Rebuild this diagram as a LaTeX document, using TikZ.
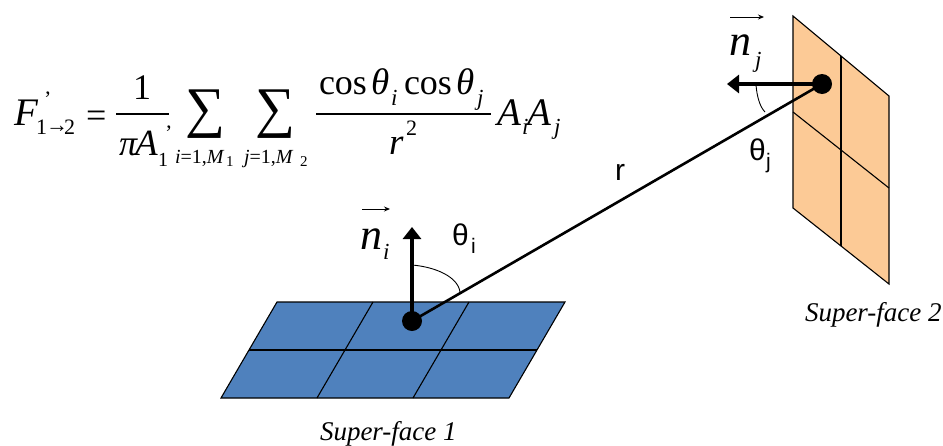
\documentclass[tikz,border=0pt]{standalone}
\usepackage{fontspec}
\setmainfont{Liberation Serif}
\newfontfamily\labelsans{Liberation Sans}
\usetikzlibrary{arrows.meta}
\definecolor{blueface}{RGB}{79,129,189}
\definecolor{orangeface}{RGB}{252,202,150}
\newcommand{\fs}[1]{\fontsize{#1}{#1}\selectfont}
\tikzset{
  txt/.style={anchor=base west,inner sep=0pt,outer sep=0pt,text=black},
  mi/.style={txt,font=\fs{37}\itshape},
  mA/.style={txt,font=\fs{39}\itshape},
  mr/.style={txt,font=\fs{36}},
  vecn/.style={txt,font=\fs{44}\itshape},
  si/.style={txt,font=\fs{23}\itshape},
  sr/.style={txt,font=\fs{22}},
  ti/.style={txt,font=\fs{15}},
  bigsum/.style={txt,font=\fs{56}},
  lab/.style={txt,font=\fs{30}\labelsans},
  labs/.style={txt,font=\fs{21}\labelsans},
  captext/.style={txt,font=\fs{27}\itshape},
  gridline/.style={draw=black,line width=1.1pt},
  fracbar/.style={draw=black,line width=1.1pt},
  thick arrow/.style={draw=black,line width=3.3pt,-{Triangle[length=12pt,width=18pt]}},
  thin arrow/.style={draw=black,line width=0.9pt,-{Stealth[length=6pt,width=5pt]}},
  dotn/.style={circle,fill=black,inner sep=0pt,minimum size=20pt},
}
\begin{document}
\begin{tikzpicture}[x=1pt,y=-1pt]
\useasboundingbox (0,0) rectangle (943,445);
% faces
\draw[gridline,fill=blueface] (277,302) -- (565,302) -- (509,398) -- (221,398) -- cycle;
\draw[gridline] (249,350) -- (537,350);
\draw[gridline] (373,302) -- (317,398);
\draw[gridline] (469,302) -- (413,398);
\draw[gridline,fill=orangeface] (793,16) -- (889,96) -- (889,284) -- (793,208) -- cycle;
\draw[gridline] (793,112) -- (889,188);
\draw[gridline] (841,56) -- (841,246);
% dots and connectors
\node[dotn] (doti) at (412,321) {};
\node[dotn] (dotj) at (822,84) {};
\coordinate (tipi) at (412,227);
\coordinate (tipj) at (727,84);
\draw[black,line width=2.6pt] (doti.center) -- (dotj.center);
\draw[thick arrow] (doti.center) -- (tipi);
\draw[thick arrow] (dotj.center) -- (tipj);
\coordinate (ai0) at (412,265);
\coordinate (ai1) at (460,292);
\coordinate (aj0) at (756,85);
\coordinate (aj1) at (765,112);
\draw[black,line width=0.9pt] (ai0) .. controls (436,267) and (458,277) .. (ai1);
\draw[black,line width=0.9pt] (aj0) .. controls (757,97) and (760,107) .. (aj1);
% vector arrows
\coordinate (vi0) at (362,209);
\coordinate (vi1) at (390,209);
\coordinate (vj0) at (730,17);
\coordinate (vj1) at (764,17);
\draw[thin arrow] (vi0) -- (vi1);
\draw[thin arrow] (vj0) -- (vj1);
% labels
\node[vecn] (ni) at (360,249) {n};
\node[si] (nis) at (383,259) {i};
\node[vecn] (nj) at (729,55) {n};
\node[si] (njs) at (755,67) {j};
\node[lab] (thi) at (452,245) {θ};
\node[labs] (this) at (471,253) {i};
\node[lab] (thj) at (749,160) {θ};
\node[labs] (thjs) at (766,168) {j};
\node[lab] (rlab) at (615,180) {r};
\node[captext] (cap1) at (320,440) {Super-face 1};
\node[captext] (cap2) at (805,321) {Super-face 2};
% formula
\node[mA] (F) at (15,125) {F};
\node[sr] (Fp) at (44,106) {'};
\node[sr] (Fs1) at (36,134) {1};
\node[sr] (Fsa) at (46,132) {→};
\node[sr] (Fs2) at (64,134) {2};
\node[mr] (eq) at (86,127) {=};
\draw[fracbar] (116,114) -- (169,114);
\node[mr] (one) at (133,99) {1};
\node[mr,font=\fs{36}\itshape] (piA) at (119,155) {π};
\node[mi] (denA) at (135,155) {A};
\node[txt,font=\fs{20}] (As) at (158,166) {1};
\node[sr] (Ap) at (165,140) {'};
\node[bigsum] (s1) at (185,126) {∑};
\node[txt,font=\fs{20}] (s1s) at (175,163) {\itshape i\upshape =1,\itshape M};
\node[ti] (s1n) at (226,166) {1};
\node[bigsum] (s2) at (255,126) {∑};
\node[txt,font=\fs{20}] (s2s) at (244,163) {\itshape j\upshape =1,\itshape M};
\node[ti] (s2n) at (300,166) {2};
\draw[fracbar] (316,114) -- (491,114);
\node[mr] (c1) at (319,94) {cos};
\node[mi] (t1) at (371,94) {θ};
\node[si] (t1s) at (391,105) {i};
\node[mr] (c2) at (404,94) {cos};
\node[mi] (t2) at (456,94) {θ};
\node[si] (t2s) at (477,105) {j};
\node[mi] (rr) at (389,154) {r};
\node[sr] (r2) at (406,135) {2};
\node[mA] (Ai) at (497,125) {A};
\node[si] (Ais) at (522,134) {i};
\node[mA] (Aj) at (527,125) {A};
\node[si] (Ajs) at (554,134) {j};
\end{tikzpicture}
\end{document}
